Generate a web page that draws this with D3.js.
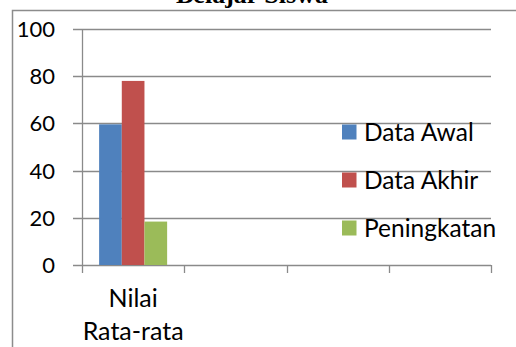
<!DOCTYPE html>
<html>
<head>
<meta charset="utf-8">
<script src="https://cdn.jsdelivr.net/npm/d3@7"></script>
<style>
  html, body { margin: 0; padding: 0; background: #fff; }
  svg { display: block; }
</style>
</head>
<body>
<svg id="chart" width="516" height="347"></svg>
<script>
// Chart data
const categories = ["Nilai Rata-rata", "", "", ""];
const seriesNames = ["Data Awal", "Data Akhir", "Peningkatan"];
const seriesColors = ["#4F81BD", "#C0504D", "#9BBB59"];
const seriesValues = [59.6, 78.0, 18.4];   // one value per series, first category only
const yTicks = [0, 20, 40, 60, 80, 100];
const titleText = "Belajar Siswa";

const svg = d3.select("#chart");
const labelFont = "Lato, 'Open Sans', sans-serif";

// outer chart frame
svg.append("path")
  .attr("d", "M12.5,347 V10.5 H516")
  .attr("fill", "none")
  .attr("stroke", "#8c8c8c")
  .attr("stroke-width", 1.5);

// title (last line visible)
svg.append("text")
  .attr("x", 252)
  .attr("y", 3)
  .attr("text-anchor", "middle")
  .attr("font-family", "'Liberation Serif', serif")
  .attr("font-weight", "bold")
  .attr("font-size", 26)
  .text(titleText);

const plot = { left: 82, right: 491, top: 29, bottom: 265 };

const x = d3.scaleBand()
  .domain(d3.range(categories.length))
  .range([plot.left, plot.right])
  .paddingInner(0)
  .paddingOuter(0);

const y = d3.scaleLinear().domain([0, 100]).range([plot.bottom, plot.top]);

// horizontal gridlines
svg.append("g")
  .selectAll("line")
  .data(yTicks)
  .join("line")
  .attr("x1", plot.left - 9)
  .attr("x2", plot.right)
  .attr("y1", d => Math.round(y(d)) + 0.5)
  .attr("y2", d => Math.round(y(d)) + 0.5)
  .attr("stroke", "#8a8a8a")
  .attr("stroke-width", 1.3);

// y axis line
svg.append("line")
  .attr("x1", plot.left + 0.5).attr("x2", plot.left + 0.5)
  .attr("y1", plot.top).attr("y2", plot.bottom)
  .attr("stroke", "#8a8a8a").attr("stroke-width", 1.3);

// y tick labels
svg.append("g")
  .selectAll("text")
  .data(yTicks)
  .join("text")
  .attr("x", 55)
  .attr("y", d => y(d))
  .attr("dy", "0.36em")
  .attr("text-anchor", "end")
  .attr("font-family", labelFont)
  .attr("font-size", 22)
  .attr("fill", "#000")
  .text(d => d);

// x category tick marks
const bounds = d3.range(categories.length + 1).map(i =>
  i < categories.length ? x(i) : x(categories.length - 1) + x.bandwidth());
svg.append("g")
  .selectAll("line")
  .data(bounds)
  .join("line")
  .attr("x1", d => Math.round(d) + 0.5)
  .attr("x2", d => Math.round(d) + 0.5)
  .attr("y1", plot.bottom)
  .attr("y2", plot.bottom + 8)
  .attr("stroke", "#8a8a8a").attr("stroke-width", 1.3);

// bars for the first category
const inner = d3.scaleBand()
  .domain(d3.range(seriesNames.length))
  .range([0, x.bandwidth()])
  .paddingOuter(0.755)
  .paddingInner(0);

svg.append("g")
  .selectAll("rect")
  .data(seriesValues)
  .join("rect")
  .attr("x", (d, i) => x(0) + inner(i))
  .attr("width", inner.bandwidth())
  .attr("y", d => y(d))
  .attr("height", d => y(0) - y(d))
  .attr("fill", (d, i) => seriesColors[i]);

// category labels (wrapped)
const catLabel = svg.append("text")
  .attr("text-anchor", "middle")
  .attr("font-family", labelFont)
  .attr("font-size", 25)
  .attr("fill", "#000");
["Nilai", "Rata-rata"].forEach((line, i) => {
  catLabel.append("tspan")
    .attr("x", x(0) + x.bandwidth() / 2)
    .attr("y", 307 + i * 33)
    .text(line);
});

// legend
const legend = svg.append("g")
  .selectAll("g")
  .data(seriesNames)
  .join("g")
  .attr("transform", (d, i) => `translate(342, ${132 + i * 48})`);
legend.append("rect")
  .attr("x", 0).attr("y", -7.5)
  .attr("width", 14.5).attr("height", 15)
  .attr("fill", (d, i) => seriesColors[i]);
legend.append("text")
  .attr("x", 22)
  .attr("y", 0)
  .attr("dy", "0.36em")
  .attr("font-family", labelFont)
  .attr("font-size", 24.5)
  .attr("fill", "#000")
  .text(d => d);
</script>
</body>
</html>
